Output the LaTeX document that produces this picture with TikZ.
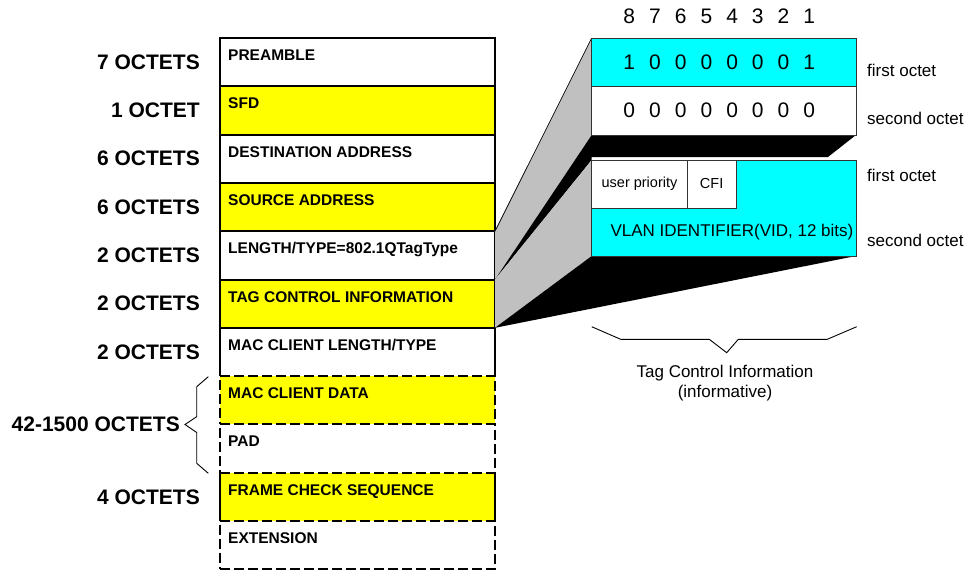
\documentclass[tikz,border=0pt]{standalone}
\usepackage{fontspec}
\setmainfont{Liberation Sans}
\usetikzlibrary{calc}
\definecolor{yel}{HTML}{FFFF00}
\definecolor{cya}{HTML}{00FFFF}
\definecolor{gry}{HTML}{C0C0C0}
\begin{document}
\begin{tikzpicture}[x=1pt,y=-1pt,
  row/.style={line width=2pt, minimum width=275pt, minimum height=48.3pt,
    anchor=north west, inner sep=0pt, outer sep=0pt},
  solidrow/.style={row, draw=black},
  dashrow/.style={row, draw=black, dash pattern=on 10pt off 4pt},
  fld/.style={font=\fontsize{15.5}{18}\selectfont\bfseries, anchor=base west, inner sep=0pt},
  oct/.style={font=\fontsize{21}{25}\selectfont\bfseries, anchor=east, inner sep=0pt},
  bit/.style={font=\fontsize{21}{25}\selectfont, inner sep=0pt},
  side/.style={font=\fontsize{17}{20}\selectfont, anchor=west, inner sep=0pt},
  small/.style={font=\fontsize{14.5}{17}\selectfont, inner sep=0pt},
  cell/.style={draw=black!80, line width=0.9pt, anchor=north west, inner sep=0pt, outer sep=0pt},
  thin/.style={line width=0.9pt, draw=black},
]
\useasboundingbox (0,0) rectangle (967,571);

% ---------- frame rows ----------
\node[solidrow] (r1) at (220,38.0) {};
\node[solidrow, fill=yel] (r2) at (220,86.3) {};
\node[solidrow] (r3) at (220,134.6) {};
\node[solidrow, fill=yel] (r4) at (220,182.9) {};
\node[solidrow] (r5) at (220,231.2) {};
\node[solidrow, fill=yel] (r6) at (220,279.5) {};
\node[row, fill=white] (r7) at (220,327.8) {};
\draw[line width=2pt] (r7.south west) -- (r7.north west) -- (r7.north east) -- (r7.south east);
\node[row, fill=yel] (r10) at (220,472.7) {};
\draw[line width=2pt] (r10.north west) -- (r10.south west) (r10.north east) -- (r10.south east);
\node[dashrow, fill=yel] (r8) at (220,376.1) {};
\node[dashrow] (r9) at (220,424.4) {};
\node[dashrow] (r11) at (220,521.0) {};

\foreach \r/\t in {r1/PREAMBLE, r2/SFD, r3/DESTINATION ADDRESS, r4/SOURCE ADDRESS,
  r5/LENGTH{/}TYPE=802.1QTagType, r6/TAG CONTROL INFORMATION, r7/MAC CLIENT LENGTH{/}TYPE,
  r8/MAC CLIENT DATA, r9/PAD, r10/FRAME CHECK SEQUENCE, r11/EXTENSION}
  \node[fld] (t\r) at ($(\r.north west)+(8,22.5)$) {\t};

% ---------- octet labels ----------
\node[oct] (o1) at (200,\fpeval{38.0+24.15}) {7 OCTETS};
\node[oct] (o2) at (200,\fpeval{86.3+24.15}) {1 OCTET};
\node[oct] (o3) at (200,\fpeval{134.6+24.15}) {6 OCTETS};
\node[oct] (o4) at (200,\fpeval{182.9+24.15}) {6 OCTETS};
\node[oct] (o5) at (200,\fpeval{231.2+24.15}) {2 OCTETS};
\node[oct] (o6) at (200,\fpeval{279.5+24.15}) {2 OCTETS};
\node[oct] (o7) at (200,\fpeval{327.8+24.15}) {2 OCTETS};
\node[oct] (o8) at (180,424.5) {42-1500 OCTETS};
\node[oct] (o10) at (200,\fpeval{472.7+24.15}) {4 OCTETS};

% left brace
\coordinate (lb1) at (208.3,376.7);
\coordinate (lb2) at (196.7,386.7);
\coordinate (lb3) at (196.7,416.7);
\coordinate (lbt) at (185,424.5);
\coordinate (lb5) at (196.7,432.5);
\coordinate (lb6) at (196.7,463.3);
\coordinate (lb7) at (208.3,473.3);
\draw[thin] (lb1) -- (lb2) -- (lb3) -- (lbt) -- (lb5) -- (lb6) -- (lb7);

% ---------- right blocks (coordinates first) ----------
\coordinate (b1nw) at (591.7,38);
\coordinate (b1sw) at (591.7,135);
\coordinate (b1se) at (856,135);
\coordinate (k1) at (828,157);
\coordinate (k2) at (591.7,157);
\coordinate (b2nw) at (591.7,160);
\coordinate (b2sw) at (591.7,256);
\coordinate (b2se) at (856,256);

% extrusion faces
\fill[gry] (r5.north east) -- (b1nw) -- (b1sw) -- (r5.south east) -- cycle;
\draw[line width=0.7pt] (r5.north east) -- (b1nw);
\fill[black] (r5.south east) -- (b1sw) -- (b1se) -- (k1) -- (k2) -- (b2nw) -- cycle;
\fill[gry] (r6.north east) -- (b2nw) -- (b2sw) -- (r6.south east) -- cycle;
\fill[black] (r6.south east) -- (b2sw) -- (b2se) -- cycle;

% blocks
\node[cell, fill=cya, minimum width=264.3pt, minimum height=48.5pt] (b1a) at (b1nw) {};
\node[cell, fill=white, minimum width=264.3pt, minimum height=48.5pt] (b1b) at (591.7,86.5) {};
\node[cell, fill=cya, minimum width=264.3pt, minimum height=96pt] (b2) at (b2nw) {};
\node[cell, fill=white, minimum width=95.6pt, minimum height=48pt] (up) at (b2nw) {};
\node[cell, fill=white, minimum width=48.7pt, minimum height=48pt] (cfi) at (up.north east) {};
\node[small] (tup) at (up.center) {user priority};
\node[small] (tcfi) at (cfi.center) {CFI};
\node[font=\fontsize{17}{20}\selectfont, anchor=east, inner sep=0pt] (vid) at (853.5,232) {VLAN IDENTIFIER(VID, 12 bits)};

% bit numbers and values
\foreach \d [count=\i] in {8,7,6,5,4,3,2,1}
  \node[bit] (n\i) at ({629.3+25.7*(\i-1)},16) {\d};
\foreach \d [count=\i] in {1,0,0,0,0,0,0,1}
  \node[bit] (p\i) at ({629.3+25.7*(\i-1)},62.3) {\d};
\foreach \d [count=\i] in {0,0,0,0,0,0,0,0}
  \node[bit] (q\i) at ({629.3+25.7*(\i-1)},110.5) {\d};

% side labels
\node[side] (s1) at (867,70) {first octet};
\node[side] (s2) at (867,118.5) {second octet};
\node[side] (s3) at (867,175.5) {first octet};
\node[side] (s4) at (867,240) {second octet};

% bottom bracket
\coordinate (c1) at (591.7,326.7);
\coordinate (c2) at (620.7,339.3);
\coordinate (c3) at (709.3,339.3);
\coordinate (ct) at (726.7,352.7);
\coordinate (c5) at (738.3,339.3);
\coordinate (c6) at (827.3,339.3);
\coordinate (c7) at (856.7,326.7);
\draw[thin] (c1) -- (c2) -- (c3) -- (ct) -- (c5) -- (c6) -- (c7);
\node[font=\fontsize{17}{20}\selectfont, align=center, inner sep=0pt] (tci) at (725,383.5) {Tag Control Information\\(informative)};
\end{tikzpicture}
\end{document}
